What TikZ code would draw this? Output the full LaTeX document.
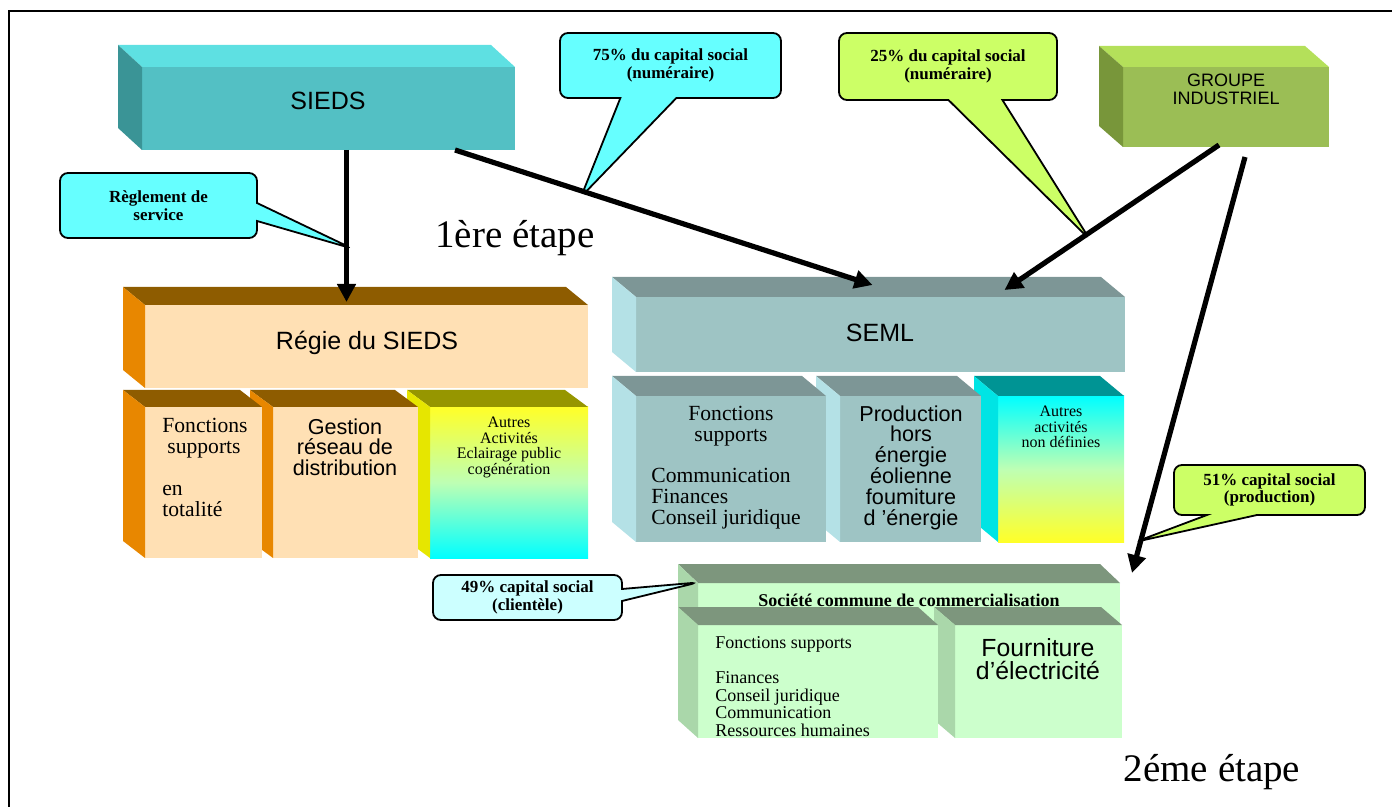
\documentclass[tikz,border=0pt]{standalone}
\usepackage{fontspec}
\setmainfont{Liberation Serif}
\setsansfont{Liberation Sans}
\usepackage{tikz}
\usetikzlibrary{shapes,arrows.meta,positioning,calc,fit,backgrounds}

\definecolor{siedsfront}{RGB}{83,192,196}
\definecolor{siedstop}{RGB}{94,224,226}
\definecolor{siedsside}{RGB}{58,148,150}
\definecolor{groupefront}{RGB}{155,190,85}
\definecolor{groupetop}{RGB}{180,224,90}
\definecolor{groupeside}{RGB}{120,150,58}
\definecolor{regiefront}{RGB}{255,224,180}
\definecolor{regietop}{RGB}{142,92,0}
\definecolor{regieside}{RGB}{232,135,0}
\definecolor{autrestop}{RGB}{150,150,0}
\definecolor{autresside}{RGB}{230,230,0}
\definecolor{semlfront}{RGB}{158,196,196}
\definecolor{semltop}{RGB}{125,150,150}
\definecolor{semlside}{RGB}{180,225,230}
\definecolor{nondeftop}{RGB}{0,148,148}
\definecolor{nondefside}{RGB}{0,228,228}
\definecolor{socfront}{RGB}{204,255,204}
\definecolor{soctop}{RGB}{125,150,125}
\definecolor{socside}{RGB}{170,215,170}
\definecolor{bubblecyan}{RGB}{102,255,255}
\definecolor{bubblegreen}{RGB}{204,255,102}
\definecolor{bubblepale}{RGB}{204,255,255}
\definecolor{gradyellow}{RGB}{255,255,40}
\definecolor{gradmint}{RGB}{190,255,180}
\definecolor{gradcyan}{RGB}{0,255,255}

% top and left faces of a front face node
\newcommand{\cubefaces}[5]{%
  \fill[#2] (#1.north west) -- ++(-#4,-#5) -- ($(#1.north east)+(-#4,-#5)$) -- (#1.north east) -- cycle;
  \fill[#3] (#1.north west) -- ++(-#4,-#5) -- ($(#1.south west)+(-#4,-#5)$) -- (#1.south west) -- cycle;}

\begin{document}
\begin{tikzpicture}[x=0.5pt,y=-0.5pt,
    face/.style={inner sep=0pt, outer sep=0pt},
    arr/.style={line width=2.6pt, -{Triangle[length=9pt,width=9pt]}},
    bubble/.style={rectangle callout, draw, line width=0.9pt, rounded corners=4pt, inner sep=1pt,
      align=center, callout pointer shorten=-3pt, font=\fontsize{8.5}{8.8}\selectfont\bfseries},
    bigsans/.style={font=\fontsize{12.5}{13}\selectfont\sffamily},
    midsans/.style={font=\fontsize{10.8}{10.4}\selectfont\sffamily, align=center, inner sep=0pt},
    midserif/.style={font=\fontsize{10.8}{10.5}\selectfont, inner sep=0pt},
    tinyserif/.style={font=\fontsize{8}{7.7}\selectfont, align=center, inner sep=0pt},
    stage/.style={font=\fontsize{19.5}{22}\selectfont}]
  \useasboundingbox (0,0) rectangle (1392,807);
  \draw[line width=1.4pt] (1392,11) -- (9,11) -- (9,807);

  % SIEDS and groupe
  \node[face, fill=siedsfront, fit={(142,67) (515,150)}] (sieds) {};
  \cubefaces{sieds}{siedstop}{siedsside}{24}{22}
  \node[bigsans] (siedsname) at (328,101) {SIEDS};

  \node[face, fill=groupefront, fit={(1123,67) (1329,147)}] (groupe) {};
  \cubefaces{groupe}{groupetop}{groupeside}{24}{21}
  \node[font=\fontsize{9}{9}\selectfont\sffamily, align=center] (groupename) at (1226,89) {GROUPE\\INDUSTRIEL};

  % regie
  \node[face, fill=regiefront, fit={(145,305) (588,388)}] (regie) {};
  \cubefaces{regie}{regietop}{regieside}{22}{18}
  \node[bigsans] (regiename) at (367,343) {Régie du SIEDS};

  \node[face, top color=gradyellow, bottom color=gradcyan, middle color=gradmint, fit={(430,407) (588,558)}] (autres) {};
  \cubefaces{autres}{autrestop}{autresside}{23}{17}
  \node[face, fill=regiefront, fit={(273,407) (418,558)}] (gestion) {};
  \cubefaces{gestion}{regietop}{regieside}{23}{17}
  \node[face, fill=regiefront, fit={(145,407) (262,558)}] (fonctions) {};
  \cubefaces{fonctions}{regietop}{regieside}{22}{17}

  \node[midserif, align=left, anchor=north west] (fonctionstext) at (162,418) {Fonctions\\\hspace*{2.5pt}supports\\[10.5pt]en\\totalité};
  \node[midsans, anchor=north] (gestiontext) at (345,418) {Gestion\\réseau de\\distribution};
  \node[tinyserif, anchor=north] (autrestext) at (509,417) {Autres\\Activités\\Eclairage public\\cogénération};

  % SEML
  \node[face, fill=semlfront, fit={(636,297) (1125,372)}] (seml) {};
  \cubefaces{seml}{semltop}{semlside}{24}{20}
  \node[bigsans] (semlname) at (880,333) {SEML};

  \node[face, top color=gradcyan, bottom color=gradyellow, middle color=gradmint, fit={(998,396) (1124,542)}] (nondef) {};
  \cubefaces{nondef}{nondeftop}{nondefside}{24}{20}
  \node[face, fill=semlfront, fit={(840,396) (981,542)}] (production) {};
  \cubefaces{production}{semltop}{semlside}{24}{20}
  \node[face, fill=semlfront, fit={(636,396) (826,542)}] (supports) {};
  \cubefaces{supports}{semltop}{semlside}{24}{20}

  \node[midserif, align=center, anchor=north] (supportstext) at (731,406) {Fonctions\\supports};
  \node[midserif, align=left, anchor=north west] (supportslist) at (651,468) {Communication\\Finances\\Conseil juridique};
  \node[midsans, anchor=north] (productiontext) at (911,405) {Production\\hors\\énergie\\éolienne\\foumiture\\d 'énergie};
  \node[tinyserif, anchor=north] (nondeftext) at (1061,406) {Autres\\activités\\non définies};

  % societe commune
  \node[face, fill=socfront, fit={(698,583) (1120,640)}] (soc) {};
  \cubefaces{soc}{soctop}{socside}{20}{19}
  \node[font=\fontsize{9}{9}\selectfont\bfseries, inner sep=0pt] (soctitle) at (909,600) {Société commune de commercialisation};

  \node[face, fill=socfront, fit={(955,625) (1122,738)}] (fourniture) {};
  \cubefaces{fourniture}{soctop}{socside}{21}{18}
  \node[face, fill=socfront, fit={(698,625) (938,738)}] (socsupports) {};
  \cubefaces{socsupports}{soctop}{socside}{20}{18}

  \node[font=\fontsize{9}{8.8}\selectfont, align=left, anchor=north west, inner sep=0pt] (socsupportstext) at (715,636)
    {Fonctions supports\\[8.8pt]Finances\\Conseil juridique\\Communication\\Ressources humaines};
  \node[font=\fontsize{12.4}{11.5}\selectfont\sffamily, align=center, anchor=north, inner sep=0pt] (fournituretext) at (1038,638) {Fourniture\\d’électricité};

  % arrows
  \draw[arr] ($(sieds.south)+(18,0)$) -- coordinate[pos=0.64] (tipregle) ($(regie.north)+(-20,-3)$);
  \draw[arr] ($(sieds.south east)+(-60,0)$) -- coordinate[pos=0.31] (tip75) ($(seml.north)+(-8,-12)$);
  \draw[arr] ($(groupe.south)+(-7,-2)$) -- coordinate[pos=0.62] (tip25) ($(seml.north)+(124,-7)$);
  \draw[arr] ($(groupe.south)+(19,10)$) -- coordinate[pos=0.92] (tip51) ($(soc.north east)+(12,-10)$);

  % bubbles
  \begin{scope}[on background layer]
    \node[bubble, fill=bubblecyan, minimum width=98.5pt, minimum height=32.5pt,
      callout absolute pointer={(tipregle)}, callout pointer width=9pt] (regle) at (158.5,205.5) {Règlement de\\service};
    \node[bubble, fill=bubblecyan, minimum width=110.5pt, minimum height=32.5pt,
      callout absolute pointer={(tip75)}, callout pointer width=28pt] (part75) at (670.5,65.5) {75\% du capital social\\(numéraire)};
    \node[bubble, fill=bubblegreen, minimum width=109pt, minimum height=33.5pt,
      callout absolute pointer={(tip25)}, callout pointer width=27pt] (part25) at (948,66.5) {25\% du capital social\\(numéraire)};
    \node[bubble, fill=bubblegreen, minimum width=95.5pt, minimum height=25pt,
      callout absolute pointer={(tip51)}, callout pointer width=25pt] (part51) at (1269.5,490) {51\% capital social\\(production)};
  \end{scope}
  \node[bubble, fill=bubblepale, minimum width=94.5pt, minimum height=22.5pt,
    callout absolute pointer={($(soc.north west)+(-6,0)$)}, callout pointer width=6pt] (part49) at (527.5,597.5) {49\% capital social\\(clientèle)};

  \node[stage] (etape1) at (515,238) {1ère étape};
  \node[stage] (etape2) at (1212,772) {2éme étape};
\end{tikzpicture}
\end{document}
